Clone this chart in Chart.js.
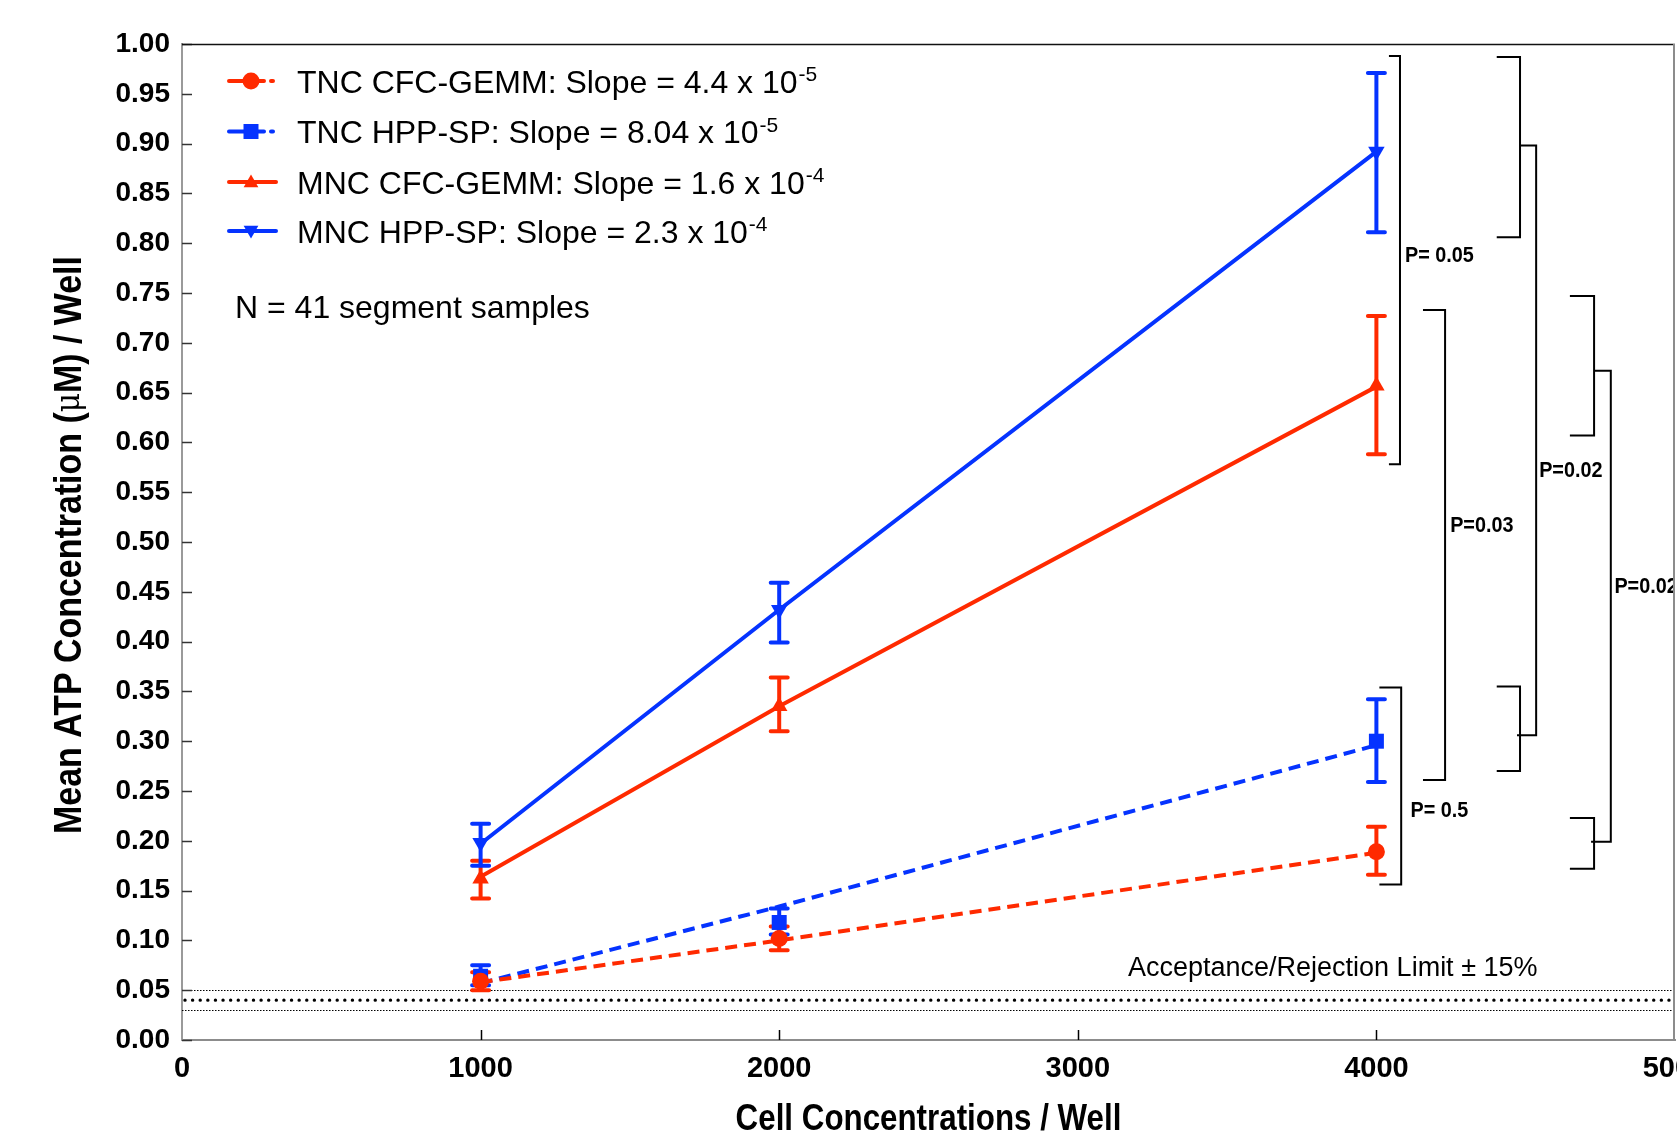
<!DOCTYPE html>
<html><head><meta charset="utf-8">
<script src="https://cdn.jsdelivr.net/npm/chart.js@4.4.1/dist/chart.umd.min.js"></script>
<style>html,body{margin:0;padding:0;background:#fff;overflow:hidden}#wrap{width:1677px;height:1135px;position:relative}</style>
</head><body><div id="wrap"><canvas id="c" width="1677" height="1135"></canvas></div>
<script>
// ---------------- data ----------------
const cellCounts = [1000, 2000, 4000];
const seriesNames = ['TNC CFC-GEMM', 'TNC HPP-SP', 'MNC CFC-GEMM', 'MNC HPP-SP'];
const slopeMantissa = ['4.4', '8.04', '1.6', '2.3'];
const slopeExponent = ['-5', '-5', '-4', '-4'];

const tncCfcMean = [0.059, 0.102, 0.189];
const tncCfcLow  = [0.050, 0.090, 0.166];
const tncCfcHigh = [0.068, 0.114, 0.214];
const tncCfcFit  = [0.058, 0.100, 0.188];

const tncHppMean = [0.064, 0.118, 0.300];
const tncHppLow  = [0.055, 0.106, 0.259];
const tncHppHigh = [0.075, 0.132, 0.342];
const tncHppFit  = [0.057, 0.134, 0.296];

const mncCfcMean = [0.162, 0.335, 0.657];
const mncCfcLow  = [0.142, 0.310, 0.588];
const mncCfcHigh = [0.180, 0.364, 0.727];
const mncCfcFit  = [0.164, 0.335, 0.656];

const mncHppMean = [0.198, 0.432, 0.892];
const mncHppLow  = [0.175, 0.399, 0.811];
const mncHppHigh = [0.217, 0.459, 0.971];
const mncHppFit  = [0.197, 0.432, 0.892];

const xTickStep = 1000;
const yTickStep = 0.05;
const limitThin = [0.05, 0.03];
const limitThick = [0.04];
const limitLabel = 'Acceptance/Rejection Limit \u00B1 15%';
const limitLabelPos = [3168, 0.0713];
const sampleNote = 'N = 41 segment samples';

// significance brackets (data units): arm start x, spine x, top y, bottom y
const bracketArm   = [4042, 4010, 4156, 4403, 4403, 4648, 4648];
const bracketSpine = [4079, 4083, 4230, 4481, 4481, 4729, 4729];
const bracketTop   = [0.988, 0.354, 0.733, 0.987, 0.355, 0.747, 0.223];
const bracketBot   = [0.578, 0.156, 0.261, 0.806, 0.270, 0.607, 0.172];
// joins between pairs of brackets
const joinFrom = [4481, 4729];
const joinTo   = [4535, 4785];
const joinTop  = [0.898, 0.672];
const joinBot  = [0.306, 0.199];
// p-value labels
const pText = ['P= 0.05', 'P= 0.5', 'P=0.03', 'P=0.02', 'P=0.02'];
const pX    = [4096, 4114, 4247, 4545, 4797];
const pY    = [0.787, 0.230, 0.516, 0.571, 0.455];

// ---------------- styling ----------------
const RED = '#ff2a00';
const BLUE = '#0533ff';
const FAM = '"Liberation Sans", Arial, Helvetica, sans-serif';
const seriesColor = [RED, BLUE, RED, BLUE];
const seriesDash = [[12, 7], [12, 7], [], []];
const seriesStyle = ['circle', 'rect', 'triangle', 'triangle'];
const seriesRot = [0, 0, 0, 180];
const seriesRadius = [8.5, 10.6, 9.5, 9.5];
const means = [tncCfcMean, tncHppMean, mncCfcMean, mncHppMean];
const lows = [tncCfcLow, tncHppLow, mncCfcLow, mncHppLow];
const highs = [tncCfcHigh, tncHppHigh, mncCfcHigh, mncHppHigh];
const fits = [tncCfcFit, tncHppFit, mncCfcFit, mncHppFit];

const pts = arr => cellCounts.map((x, i) => ({x: x, y: arr[i]}));

const datasets = [];
for (let s = 0; s < 4; s++) {
  datasets.push({
    label: seriesNames[s] + ' fit', data: pts(fits[s]), order: 2,
    borderColor: seriesColor[s], borderWidth: 4, borderDash: seriesDash[s],
    pointRadius: 0, tension: 0, fill: false
  });
}
for (let s = 0; s < 4; s++) {
  datasets.push({
    label: seriesNames[s], data: pts(means[s]), order: 0, showLine: false,
    pointStyle: seriesStyle[s], pointRotation: seriesRot[s], pointRadius: seriesRadius[s],
    pointBackgroundColor: seriesColor[s], pointBorderColor: seriesColor[s], pointBorderWidth: 0
  });
}

function drawMarker(ctx, style, x, y, r, rot) {
  Chart.helpers.drawPoint(ctx, {pointStyle: style, rotation: rot, radius: r, borderWidth: 0}, x, y);
}

const annot = {
  id: 'annot',
  beforeDatasetsDraw(chart) {
    const {ctx, chartArea: a, scales: {x: xs, y: ys}} = chart;
    ctx.save();
    ctx.beginPath(); ctx.rect(a.left, a.top, a.right - a.left, a.bottom - a.top); ctx.clip();
    ctx.strokeStyle = '#000';
    limitThin.forEach(v => {
      const py = Math.round(ys.getPixelForValue(v)) + 0.5;
      ctx.lineWidth = 1; ctx.setLineDash([1.5, 1.5]); ctx.lineCap = 'butt';
      ctx.beginPath(); ctx.moveTo(a.left, py); ctx.lineTo(a.right, py); ctx.stroke();
    });
    limitThick.forEach(v => {
      const py = ys.getPixelForValue(v);
      ctx.lineWidth = 3.4; ctx.setLineDash([0.01, 7.6]); ctx.lineCap = 'round';
      ctx.beginPath(); ctx.moveTo(a.left + 3, py); ctx.lineTo(a.right, py); ctx.stroke();
    });
    ctx.setLineDash([]);
    ctx.lineCap = 'round';
    for (let s = 0; s < 4; s++) {
      ctx.strokeStyle = seriesColor[s]; ctx.lineWidth = 4;
      cellCounts.forEach((c, i) => {
        const px = xs.getPixelForValue(c);
        const p0 = ys.getPixelForValue(lows[s][i]);
        const p1 = ys.getPixelForValue(highs[s][i]);
        ctx.beginPath();
        ctx.moveTo(px, p0); ctx.lineTo(px, p1);
        ctx.moveTo(px - 8.5, p0); ctx.lineTo(px + 8.5, p0);
        ctx.moveTo(px - 8.5, p1); ctx.lineTo(px + 8.5, p1);
        ctx.stroke();
      });
    }
    ctx.restore();
  },
  afterDatasetsDraw(chart) {
    const {ctx, chartArea: a, scales: {x: xs, y: ys}} = chart;
    ctx.save();
    ctx.strokeStyle = '#333'; ctx.lineWidth = 1.5;
    for (let v = 0; v <= 1.0001; v += yTickStep) {
      const py = Math.round(ys.getPixelForValue(v)) + 0.5;
      ctx.beginPath(); ctx.moveTo(a.left, py); ctx.lineTo(a.left + 10, py); ctx.stroke();
    }
    ctx.strokeStyle = '#000';
    for (let v = xTickStep; v < 5000; v += xTickStep) {
      const px = Math.round(xs.getPixelForValue(v)) + 0.5;
      ctx.beginPath(); ctx.moveTo(px, a.bottom); ctx.lineTo(px, a.bottom - 10); ctx.stroke();
    }
    ctx.lineWidth = 1.5; ctx.strokeStyle = '#111';
    ctx.beginPath(); ctx.moveTo(a.left, a.top + 0.5); ctx.lineTo(a.right, a.top + 0.5); ctx.stroke();
    ctx.strokeStyle = '#8c8c8c'; ctx.lineWidth = 2;
    ctx.beginPath(); ctx.moveTo(a.right - 1, a.top); ctx.lineTo(a.right - 1, a.bottom); ctx.stroke();

    ctx.save();
    ctx.beginPath(); ctx.rect(a.left, a.top, a.right - a.left - 2, a.bottom - a.top); ctx.clip();
    ctx.strokeStyle = '#000'; ctx.lineWidth = 2; ctx.lineCap = 'butt'; ctx.lineJoin = 'miter';
    for (let b = 0; b < bracketArm.length; b++) {
      const x0 = xs.getPixelForValue(bracketArm[b]);
      const x1 = xs.getPixelForValue(bracketSpine[b]);
      const t = ys.getPixelForValue(bracketTop[b]);
      const bt = ys.getPixelForValue(bracketBot[b]);
      ctx.beginPath(); ctx.moveTo(x0, t); ctx.lineTo(x1, t); ctx.lineTo(x1, bt); ctx.lineTo(x0, bt); ctx.stroke();
    }
    for (let j = 0; j < joinFrom.length; j++) {
      const x0 = xs.getPixelForValue(joinFrom[j]);
      const x1 = xs.getPixelForValue(joinTo[j]);
      const t = ys.getPixelForValue(joinTop[j]);
      const bt = ys.getPixelForValue(joinBot[j]);
      ctx.beginPath(); ctx.moveTo(x0, t); ctx.lineTo(x1, t); ctx.lineTo(x1, bt); ctx.lineTo(x0 - 3, bt); ctx.stroke();
    }
    ctx.fillStyle = '#000';
    ctx.textAlign = 'left'; ctx.textBaseline = 'middle';
    pText.forEach((t, i) => {
      ctx.save();
      ctx.font = 'bold 22px ' + FAM;
      ctx.translate(xs.getPixelForValue(pX[i]), ys.getPixelForValue(pY[i]));
      ctx.scale(0.9, 1);
      ctx.fillText(t, 0, 0);
      ctx.restore();
    });
    ctx.restore();

    ctx.fillStyle = '#000';
    ctx.font = '27px ' + FAM; ctx.textAlign = 'left'; ctx.textBaseline = 'middle';
    ctx.fillText(limitLabel, xs.getPixelForValue(limitLabelPos[0]), ys.getPixelForValue(limitLabelPos[1]));

    // legend
    const rowY = [81, 131.5, 182, 231];
    const lx0 = a.left + 47, lx1 = a.left + 82, lxEnd = a.left + 94, mx = a.left + 69, tx = a.left + 115;
    for (let s = 0; s < 4; s++) {
      const y = rowY[s];
      ctx.strokeStyle = seriesColor[s]; ctx.fillStyle = seriesColor[s];
      ctx.lineWidth = 4; ctx.lineCap = 'round';
      ctx.beginPath();
      if (seriesDash[s].length) {
        ctx.moveTo(lx0, y); ctx.lineTo(lx1, y);
        ctx.moveTo(lxEnd - 5, y); ctx.lineTo(lxEnd - 3, y);
      } else {
        ctx.moveTo(lx0, y); ctx.lineTo(lxEnd, y);
      }
      ctx.stroke();
      const r = seriesStyle[s] === 'rect' ? 10.6 : 8.5;
      drawMarker(ctx, seriesStyle[s], mx, y + (seriesStyle[s] === 'triangle' ? (seriesRot[s] ? -1 : 1) : 0), r, seriesRot[s]);
      ctx.fillStyle = '#000';
      ctx.font = '32px ' + FAM; ctx.textAlign = 'left'; ctx.textBaseline = 'alphabetic';
      const main = seriesNames[s] + ': Slope = ' + slopeMantissa[s] + ' x 10';
      ctx.fillText(main, tx, y + 11.5);
      const w = ctx.measureText(main).width;
      ctx.font = '21px ' + FAM;
      ctx.fillText(slopeExponent[s], tx + w + 1, y);
    }
    ctx.font = '32px ' + FAM; ctx.textBaseline = 'middle'; ctx.fillStyle = '#000';
    ctx.fillText(sampleNote, a.left + 53, 309);

    const sx = 0.87;
    ctx.textBaseline = 'middle';
    ctx.save();
    ctx.font = 'bold 36px ' + FAM;
    const xt = 'Cell Concentrations / Well';
    const xw = ctx.measureText(xt).width * sx;
    ctx.translate((a.left + a.right) / 2 - xw / 2, 1120);
    ctx.scale(sx, 1);
    ctx.textAlign = 'left';
    ctx.fillText(xt, 0, 0);
    ctx.restore();
    ctx.save();
    const parts = [['Mean ATP Concentration (', 'bold 39px ' + FAM], ['\u03BC', '34px "DejaVu Serif", serif'], ['M) / Well', 'bold 39px ' + FAM]];
    let tw = 0;
    parts.forEach(p => { ctx.font = p[1]; tw += ctx.measureText(p[0]).width; });
    ctx.translate(70, (a.top + a.bottom) / 2 + 3);
    ctx.rotate(-Math.PI / 2);
    ctx.scale(sx, 1);
    let cx = -tw / 2;
    ctx.textAlign = 'left';
    parts.forEach(p => { ctx.font = p[1]; ctx.fillText(p[0], cx, 0); cx += ctx.measureText(p[0]).width; });
    ctx.restore();
    ctx.restore();
  }
};

new Chart(document.getElementById('c'), {
  type: 'line',
  data: {datasets: datasets},
  options: {
    responsive: false, animation: false, devicePixelRatio: 1,
    layout: {autoPadding: false, padding: {top: 44, right: 2, left: 0, bottom: 0}},
    plugins: {legend: {display: false}, tooltip: {enabled: false}},
    scales: {
      x: {
        type: 'linear', min: 0, max: 5000,
        ticks: {stepSize: xTickStep, padding: 12, color: '#000', maxRotation: 0, autoSkip: false,
                callback: v => String(v),
                font: {family: FAM, size: 29, weight: 'bold'}},
        grid: {display: false, drawTicks: false},
        border: {display: true, color: '#8c8c8c', width: 2},
        afterFit(s) { s.height = 95; s.paddingLeft = 0; s.paddingRight = 0; }
      },
      y: {
        type: 'linear', min: 0, max: 1,
        ticks: {stepSize: yTickStep, padding: 12, color: '#000', autoSkip: false,
                callback: v => Number(v).toFixed(2),
                font: {family: FAM, size: 28, weight: 'bold'}},
        grid: {display: false, drawTicks: false},
        border: {display: true, color: '#9a9a9a', width: 2},
        afterFit(s) { s.width = 182; s.paddingTop = 0; s.paddingBottom = 0; }
      }
    }
  },
  plugins: [annot]
});
</script></body></html>
